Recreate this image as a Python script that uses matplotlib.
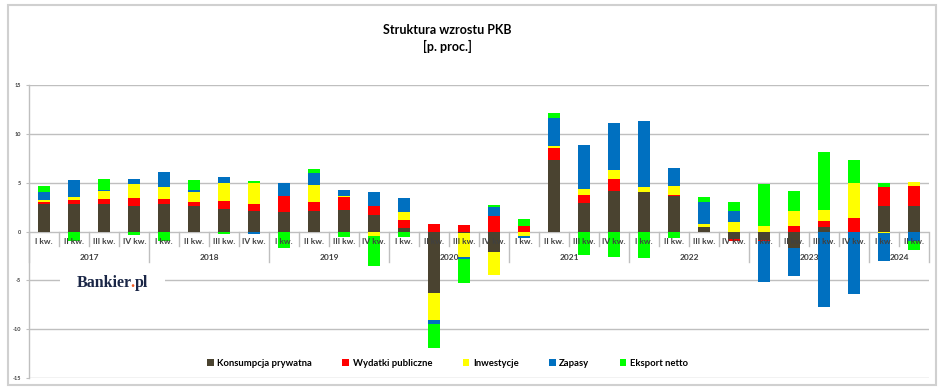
import matplotlib
matplotlib.use("Agg")
import matplotlib.pyplot as plt
from matplotlib.patches import Patch, Rectangle
import numpy as np

plt.rcParams['font.family'] = ['Lato', 'DejaVu Sans']

years = ['2017', '2018', '2019', '2020', '2021', '2022', '2023', '2024']
quarters_per_year = [4, 4, 4, 4, 4, 4, 4, 2]
quarter_names = ['I kw.', 'II kw.', 'III kw.', 'IV kw.']

series_names = ['Konsumpcja prywatna', 'Wydatki publiczne', 'Inwestycje', 'Zapasy', 'Eksport netto']
series_colors = ['#4A4330', '#FF0000', '#FFFF00', '#0070C0', '#00FF00']

konsumpcja = [2.8, 2.8, 2.8, 2.6, 2.8, 2.6, 2.35, 2.1, 1.95, 2.05, 2.25, 1.65,
              0.35, -6.28, -0.2, -2.1, -0.1, 7.27, 2.87, 4.13, 4.0, 3.6, 0.48, -0.72,
              -0.9, -1.64, 0.44, 0.0, 2.63, 2.63]
wydatki = [0.25, 0.4, 0.5, 0.8, 0.5, 0.45, 0.75, 0.7, 1.65, 1.0, 1.3, 1.0,
           0.8, 0.8, 0.7, 1.6, 0.6, 1.23, 0.82, 1.26, 0.05, 0.15, 0.0, -0.24,
           -0.05, 0.58, 0.65, 1.4, 1.95, 2.05]
inwestycje = [0.15, 0.3, 0.8, 1.5, 1.3, 1.0, 1.9, 2.2, -0.05, 1.7, 0.05, -0.47,
              0.85, -2.8, -2.45, -2.4, -0.35, 0.27, 0.68, 0.89, 0.5, 0.9, 0.27, 1.0,
              0.58, 1.47, 1.16, 3.58, -0.2, 0.34]
zapasy = [0.8, 1.75, 0.17, 0.5, 1.5, 0.2, 0.55, -0.3, 1.4, 1.2, 0.7, 1.35,
          1.4, -0.44, -0.12, 0.9, -0.2, 2.9, 4.47, 4.78, 6.8, 1.85, 2.25, 1.05,
          -4.27, -2.94, -7.68, -6.38, -2.83, -0.95]
eksport = [0.7, -1.0, 1.1, -0.4, -1.0, 1.0, -0.3, 0.15, -1.6, 0.5, -0.55, -3.1,
           -0.55, -2.36, -2.5, 0.17, 0.7, 0.48, -2.4, -2.6, -2.7, -0.7, 0.55, 0.95,
           4.3, 2.1, 5.94, 2.39, 0.4, -0.95]

yticks = [-15, -10, -5, 0, 5, 10, 15]

W, H = 948, 392
fig = plt.figure(figsize=(W / 100, H / 100), dpi=100)
fig.patch.set_facecolor('white')

def fx(px):
    return px / W

def fy(py):
    return 1 - py / H

ax_left, ax_right, ax_top, ax_bot = 29.3, 929.0, 85.0, 378.0
ax = fig.add_axes([fx(ax_left), fy(ax_bot), fx(ax_right - ax_left), (ax_bot - ax_top) / H])

data = [konsumpcja, wydatki, inwestycje, zapasy, eksport]
n = len(konsumpcja)
x = np.arange(n)
pos_bottom = np.zeros(n)
neg_bottom = np.zeros(n)
for vals, color in zip(data, series_colors):
    v = np.array(vals, dtype=float)
    bottoms = np.where(v >= 0, pos_bottom, neg_bottom)
    ax.bar(x, v, bottom=bottoms, width=0.41, color=color, zorder=3, linewidth=0)
    pos_bottom += np.where(v >= 0, v, 0)
    neg_bottom += np.where(v < 0, v, 0)

ax.set_xlim(-0.5, n - 0.5)
ax.set_ylim(-15, 15)
ax.set_yticks(yticks)
ax.set_yticklabels([str(t) for t in yticks], fontsize=4, fontweight='bold', color='#404040')
ax.tick_params(axis='y', length=2, width=0.8, color='#BFBFBF', pad=4)
ax.set_xticks([])
for s in ['top', 'right', 'bottom']:
    ax.spines[s].set_visible(False)
ax.spines['left'].set_color('#BFBFBF')
ax.spines['left'].set_linewidth(1)
for t in yticks:
    ax.axhline(t, color='#BFBFBF', lw=1, zorder=1)

# category axis labels
xt = ax.get_xaxis_transform()
labels = []
year_bounds = [-0.5]
for y, nq in zip(years, quarters_per_year):
    start = year_bounds[-1]
    for q in range(nq):
        labels.append(quarter_names[q])
    year_bounds.append(start + nq)
for i, lab in enumerate(labels):
    ax.text(i, 0.5 - 10.0 / 293, lab, transform=xt, ha='center', va='center',
            fontsize=6, fontweight='bold', color='#404040', zorder=4)
for i in range(n + 1):
    b = i - 0.5
    L = 30.4 if b in year_bounds else 14.4
    ax.plot([b, b], [0.5, 0.5 - L / 293], transform=xt, color='#BFBFBF', lw=1,
            clip_on=False, zorder=2)
for k, y in enumerate(years):
    c = (year_bounds[k] + year_bounds[k + 1]) / 2
    ax.text(c, 0.5 - 25.6 / 293, y, transform=xt, ha='center', va='center',
            fontsize=6, fontweight='bold', color='#404040', zorder=4)

# title
fig.text(fx(447), fy(30), 'Struktura wzrostu PKB', ha='center', va='center',
         fontsize=9, fontweight='bold', color='black')
fig.text(fx(447), fy(46), '[p. proc.]', ha='center', va='center',
         fontsize=9, fontweight='bold', color='black')

# legend
handles = [Patch(facecolor=c, edgecolor='none', label=nm) for nm, c in zip(series_names, series_colors)]
fig.legend(handles=handles, loc='center', bbox_to_anchor=(fx(447.5), fy(363)), ncol=5,
           frameon=False, prop={'family': 'Lato', 'weight': 'bold', 'size': 6.8},
           handlelength=0.7, handleheight=0.7, handletextpad=0.4, columnspacing=3.2)

# logo (white box interrupting the -5 gridline)
ax.add_patch(Rectangle((fx(60), fy(292)), fx(105), 22 / H, transform=fig.transFigure,
                       facecolor='white', edgecolor='none', zorder=2, clip_on=False))
logo_kw = dict(fontsize=11.5, fontweight='bold', family='Liberation Serif', zorder=6,
               transform=fig.transFigure, va='baseline', clip_on=False)
lx, ly = fx(77), fy(287)
renderer = fig.canvas.get_renderer()

def measure(s):
    t = ax.text(lx, ly, s, ha='left', **logo_kw)
    w = t.get_window_extent(renderer).width
    t.remove()
    return w / W

w_bankier = measure('Bankier')
w_bankier_dot = measure('Bankier.')
w_full = measure('Bankier.pl')
ax.text(lx, ly, 'Bankier', ha='left', color='#1B2747', **logo_kw)
ax.text(lx + w_bankier_dot, ly, '.', ha='right', color='#F05A22', **logo_kw)
ax.text(lx + w_full, ly, 'pl', ha='right', color='#1B2747', **logo_kw)

# outer frame
fig.patches.append(Rectangle((fx(8), fy(385)), fx(928), 380 / H, transform=fig.transFigure,
                             facecolor='none', edgecolor='#D0D0D0', lw=1.5, zorder=0))

fig.savefig('out.png', dpi=100, facecolor='white')
